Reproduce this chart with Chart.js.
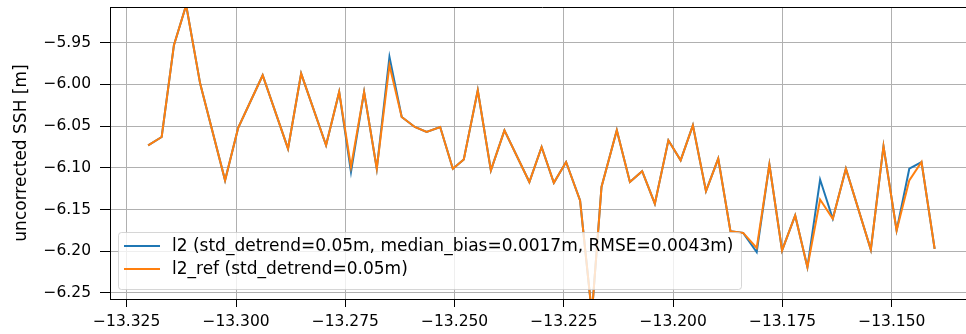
<!DOCTYPE html>
<html>
<head>
<meta charset="utf-8">
<script src="https://cdn.jsdelivr.net/npm/chart.js@4.4.1/dist/chart.umd.min.js"></script>
<style>
  html, body { margin: 0; padding: 0; background: #fff; overflow: hidden; }
  #wrap { width: 990px; height: 334px; }
</style>
</head>
<body>
<div id="wrap"><canvas id="sshChart" width="990" height="334"></canvas></div>
<script>
// along-track position (shared by both series)
const xValues = [
  -13.3201, -13.3170, -13.3142, -13.3114, -13.3082, -13.3025, -13.2995, -13.2939,
  -13.2881, -13.2851, -13.2794, -13.2764, -13.2737, -13.2707, -13.2678, -13.2649,
  -13.2621, -13.2591, -13.2564, -13.2533, -13.2504, -13.2479, -13.2447, -13.2417,
  -13.2386, -13.2329, -13.2301, -13.2273, -13.2245, -13.2213, -13.2186, -13.2164,
  -13.2129, -13.2099, -13.2071, -13.2042, -13.2011, -13.1983, -13.1955, -13.1925,
  -13.1897, -13.1869, -13.1840, -13.1809, -13.1780, -13.1751, -13.1721, -13.1693,
  -13.1664, -13.1635, -13.1605, -13.1548, -13.1519, -13.1489, -13.1460, -13.1432,
  -13.1402
];

const l2Values = [
  -6.073, -6.063, -5.953, -5.905, -5.999, -6.115, -6.052, -5.989,
  -6.077, -5.987, -6.073, -6.009, -6.105, -6.009, -6.101, -5.967,
  -6.039, -6.051, -6.057, -6.051, -6.101, -6.090, -6.007, -6.103,
  -6.055, -6.117, -6.075, -6.118, -6.093, -6.139, -6.275, -6.123,
  -6.055, -6.117, -6.104, -6.143, -6.067, -6.091, -6.049, -6.128,
  -6.089, -6.176, -6.178, -6.201, -6.096, -6.199, -6.157, -6.219,
  -6.114, -6.161, -6.101, -6.198, -6.074, -6.175, -6.101, -6.093,
  -6.197
];

const l2RefValues = [
  -6.073, -6.063, -5.953, -5.905, -5.999, -6.115, -6.052, -5.989,
  -6.077, -5.987, -6.073, -6.009, -6.099, -6.009, -6.101, -5.977,
  -6.039, -6.051, -6.057, -6.051, -6.101, -6.090, -6.007, -6.103,
  -6.055, -6.117, -6.075, -6.118, -6.093, -6.139, -6.275, -6.123,
  -6.055, -6.117, -6.104, -6.143, -6.067, -6.091, -6.049, -6.128,
  -6.089, -6.176, -6.178, -6.196, -6.096, -6.199, -6.157, -6.219,
  -6.138, -6.161, -6.101, -6.198, -6.074, -6.175, -6.115, -6.093,
  -6.197
];

const seriesLabels = [
  "l2 (std_detrend=0.05m, median_bias=0.0017m, RMSE=0.0043m)",
  "l2_ref (std_detrend=0.05m)"
];
const seriesColors = ["#1f77b4", "#ff7f0e"];

const xTicks = [-13.325, -13.300, -13.275, -13.250, -13.225, -13.200, -13.175, -13.150];
const xTickLabels = ["−13.325", "−13.300", "−13.275", "−13.250", "−13.225", "−13.200", "−13.175", "−13.150"];
const yTicks = [-6.25, -6.20, -6.15, -6.10, -6.05, -6.00, -5.95];
const yTickLabels = ["−6.25", "−6.20", "−6.15", "−6.10", "−6.05", "−6.00", "−5.95"];
const yTitle = "uncorrected SSH [m]";

const FONT = "DejaVu Sans";
const TICK_SIZE = 15.5;
const LABEL_SIZE = 17;

Chart.defaults.font.family = FONT;
Chart.defaults.font.size = TICK_SIZE;
Chart.defaults.color = "#000";

function toPoints(values) {
  return values.map((y, i) => ({ x: xValues[i], y: y }));
}

// matplotlib-style legend drawn inside the axes (lower left)
const insideLegend = {
  id: "insideLegend",
  afterDatasetsDraw(chart) {
    const ctx = chart.ctx;
    ctx.save();
    ctx.font = LABEL_SIZE + "px '" + FONT + "'";
    const textX = 172;
    const rows = [246, 269];
    const w = Math.max(...seriesLabels.map((t) => ctx.measureText(t).width));
    const x0 = 118.5, y0 = 232.5, x1 = Math.round(textX + w + 8) + 0.5, y1 = 289.5;
    ctx.globalAlpha = 0.8;
    ctx.beginPath();
    ctx.roundRect(x0, y0, x1 - x0, y1 - y0, 3);
    ctx.fillStyle = "#fff";
    ctx.fill();
    ctx.strokeStyle = "#cccccc";
    ctx.lineWidth = 1;
    ctx.stroke();
    ctx.globalAlpha = 1;
    seriesLabels.forEach((label, i) => {
      ctx.beginPath();
      ctx.moveTo(124, rows[i]);
      ctx.lineTo(160, rows[i]);
      ctx.strokeStyle = seriesColors[i];
      ctx.lineWidth = 2;
      ctx.stroke();
      ctx.fillStyle = "#000";
      ctx.textBaseline = "middle";
      ctx.textAlign = "left";
      ctx.fillText(label, textX, rows[i] + 1);
    });
    ctx.restore();
  },
};

// top spine
const topSpine = {
  id: "topSpine",
  afterDraw(chart) {
    const { ctx, chartArea } = chart;
    ctx.save();
    ctx.strokeStyle = "#000";
    ctx.lineWidth = 1;
    ctx.beginPath();
    ctx.moveTo(chartArea.left, chartArea.top + 0.5);
    ctx.lineTo(chartArea.right, chartArea.top + 0.5);
    ctx.stroke();
    ctx.restore();
  },
};

const ctx = document.getElementById("sshChart").getContext("2d");
new Chart(ctx, {
  type: "line",
  data: {
    datasets: [
      {
        label: seriesLabels[0],
        data: toPoints(l2Values),
        borderColor: seriesColors[0],
        borderWidth: 2,
        pointRadius: 0,
        tension: 0,
        order: 1,
      },
      {
        label: seriesLabels[1],
        data: toPoints(l2RefValues),
        borderColor: seriesColors[1],
        borderWidth: 2,
        pointRadius: 0,
        tension: 0,
        order: 0,
      },
    ],
  },
  options: {
    responsive: false,
    animation: false,
    events: [],
    layout: { padding: { left: 0, top: 7, right: 15, bottom: 0 } },
    plugins: {
      legend: { display: false },
      tooltip: { enabled: false },
    },
    scales: {
      x: {
        type: "linear",
        min: -13.32882,
        max: -13.13097,
        afterBuildTicks: (scale) => {
          scale.ticks = xTicks.map((v) => ({ value: v }));
        },
        afterFit: (scale) => {
          scale.height = 35;
          scale.paddingLeft = 0;
          scale.paddingRight = 0;
        },
        ticks: {
          autoSkip: false,
          maxRotation: 0,
          padding: 6,
          callback: (value, index) => xTickLabels[index],
        },
        grid: { color: "#b0b0b0", lineWidth: 1, tickLength: 8, tickColor: "#000" },
        border: { color: "#000", width: 1 },
      },
      y: {
        type: "linear",
        min: -6.2572,
        max: -5.9072,
        afterBuildTicks: (scale) => {
          scale.ticks = yTicks.map((v) => ({ value: v }));
        },
        afterFit: (scale) => {
          scale.width = 110;
          scale.paddingTop = 0;
          scale.paddingBottom = 0;
        },
        ticks: {
          autoSkip: false,
          padding: 9,
          callback: (value, index) => yTickLabels[index],
        },
        grid: { color: "#b0b0b0", lineWidth: 1, tickLength: 10, tickColor: "#000" },
        border: { color: "#000", width: 1 },
        title: {
          display: true,
          text: yTitle,
          color: "#000",
          font: { size: LABEL_SIZE },
          padding: { top: 11, bottom: 0 },
        },
      },
    },
  },
  plugins: [insideLegend, topSpine],
});
</script>
</body>
</html>
